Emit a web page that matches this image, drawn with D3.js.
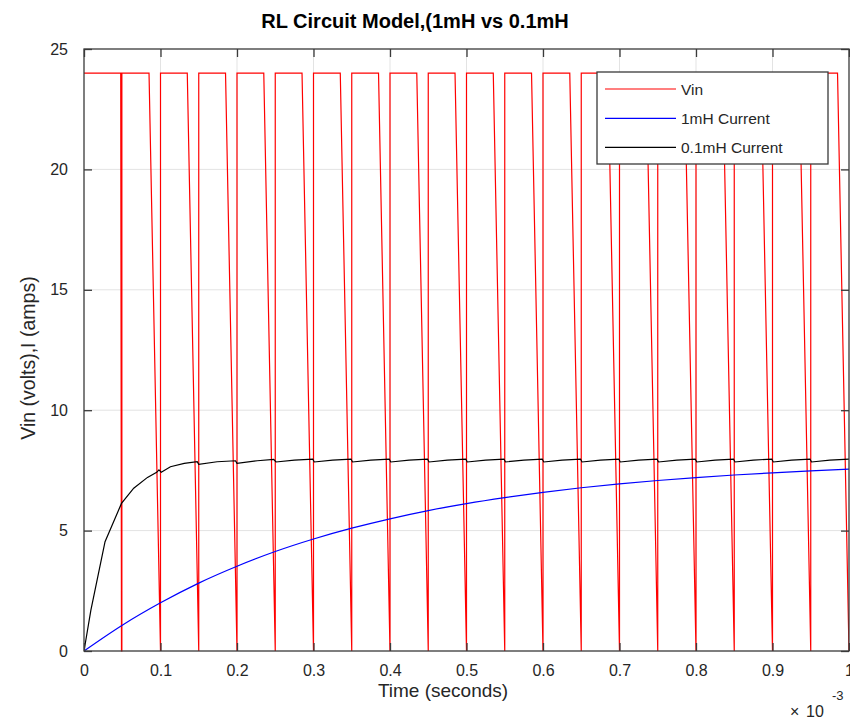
<!DOCTYPE html>
<html>
<head>
<meta charset="utf-8">
<script src="https://cdn.jsdelivr.net/npm/d3@7"></script>
<style>
  html, body { margin: 0; padding: 0; background: #fff; }
  svg { display: block; font-family: "Liberation Sans", Arial, Helvetica, sans-serif; }
</style>
</head>
<body>
<svg id="chart" width="850" height="726"></svg>
<script>
// ---------------- DATA (time in units of 1e-3 s) ----------------
const xTickValues = [0, 0.1, 0.2, 0.3, 0.4, 0.5, 0.6, 0.7, 0.8, 0.9, 1];
const xTickLabels = ["0", "0.1", "0.2", "0.3", "0.4", "0.5", "0.6", "0.7", "0.8", "0.9", "1"];
const yTickValues = [0, 5, 10, 15, 20, 25];
const yTickLabels = ["0", "5", "10", "15", "20", "25"];

// Vin square wave: edges of each pulse
const vinHigh = 24;
const vinRiseTimes  = [0, 0.0495, 0.1, 0.15, 0.2, 0.25, 0.3, 0.35, 0.4, 0.45, 0.5, 0.55, 0.6, 0.65, 0.7, 0.75, 0.8, 0.85, 0.9, 0.95];
const vinFallStart  = [0.048, 0.085, 0.135, 0.185, 0.235, 0.285, 0.335, 0.385, 0.435, 0.485, 0.535, 0.585, 0.635, 0.685, 0.735, 0.785, 0.835, 0.885, 0.935, 0.985];
const vinFallEnd    = [0.049, 0.1, 0.15, 0.2, 0.25, 0.3, 0.35, 0.4, 0.45, 0.5, 0.55, 0.6, 0.65, 0.7, 0.75, 0.8, 0.85, 0.9, 0.95, 1.0];

// 1mH current
const slowTime = [0, 0.05, 0.1, 0.15, 0.2, 0.25, 0.3, 0.35, 0.4, 0.45, 0.5, 0.55, 0.6, 0.65, 0.7, 0.75, 0.8, 0.85, 0.9, 0.95, 1.0];
const slowCurrent = [0, 1.07, 2.0, 2.82, 3.52, 4.13, 4.65, 5.10, 5.49, 5.83, 6.12, 6.37, 6.59, 6.78, 6.94, 7.08, 7.20, 7.31, 7.40, 7.48, 7.55];

// 0.1mH current
const fastTime = [0, 0.009, 0.0275, 0.049, 0.065, 0.083, 0.095, 0.098, 0.101, 0.113, 0.131, 0.148, 0.150, 0.174, 0.198, 0.200, 0.2265, 0.248, 0.251,
  0.275, 0.299, 0.301, 0.325, 0.349, 0.351, 0.375, 0.399, 0.401, 0.425, 0.449, 0.451, 0.475, 0.499, 0.501, 0.525, 0.549, 0.551,
  0.575, 0.599, 0.601, 0.625, 0.649, 0.651, 0.675, 0.699, 0.701, 0.725, 0.749, 0.751, 0.775, 0.799, 0.801, 0.825, 0.849, 0.851,
  0.875, 0.899, 0.901, 0.925, 0.949, 0.951, 0.975, 1.0];
const fastCurrent = [0, 1.70, 4.54, 6.13, 6.76, 7.21, 7.42, 7.52, 7.42, 7.65, 7.79, 7.86, 7.75, 7.86, 7.90, 7.79, 7.90, 7.96, 7.85,
  7.93, 7.97, 7.85, 7.93, 7.97, 7.85, 7.93, 7.97, 7.85, 7.93, 7.97, 7.85, 7.93, 7.97, 7.85, 7.93, 7.97, 7.85,
  7.93, 7.97, 7.85, 7.93, 7.97, 7.85, 7.93, 7.97, 7.85, 7.93, 7.97, 7.85, 7.93, 7.97, 7.85, 7.93, 7.97, 7.85,
  7.93, 7.97, 7.85, 7.93, 7.97, 7.85, 7.93, 7.97];

const seriesNames = ["Vin", "1mH Current", "0.1mH Current"];
const seriesColors = ["#ff0000", "#0000ff", "#000000"];

// ---------------- LAYOUT ----------------
const plot = { left: 84, right: 849, top: 49, bottom: 651 };
const svg = d3.select("#chart");
const x = d3.scaleLinear().domain([0, 1]).range([plot.left, plot.right]);
const y = d3.scaleLinear().domain([0, 25]).range([plot.bottom, plot.top]);

const axisColor = "#3a3a3a";
const textColor = "#262626";

// grid
const grid = svg.append("g");
grid.selectAll("line.gx").data(xTickValues.slice(1, -1)).enter().append("line")
  .attr("x1", d => x(d)).attr("x2", d => x(d)).attr("y1", plot.top).attr("y2", plot.bottom)
  .attr("stroke", "#e3e3e3").attr("stroke-width", 1);
grid.selectAll("line.gy").data(yTickValues.slice(1, -1)).enter().append("line")
  .attr("y1", d => y(d)).attr("y2", d => y(d)).attr("x1", plot.left).attr("x2", plot.right)
  .attr("stroke", "#e3e3e3").attr("stroke-width", 1);

// clip
svg.append("clipPath").attr("id", "clip").append("rect")
  .attr("x", plot.left).attr("y", plot.top - 1)
  .attr("width", plot.right - plot.left).attr("height", plot.bottom - plot.top + 2);

// series points
const vinPts = [[0, vinHigh]];
for (let i = 0; i < vinFallStart.length; i++) {
  vinPts.push([vinFallStart[i], vinHigh]);
  vinPts.push([vinFallEnd[i], 0]);
  if (i + 1 < vinRiseTimes.length) {
    vinPts.push([vinRiseTimes[i + 1], 0]);
    vinPts.push([vinRiseTimes[i + 1], vinHigh]);
  }
}
const slowPts = slowTime.map((t, i) => [t, slowCurrent[i]]);
const fastPts = fastTime.map((t, i) => [t, fastCurrent[i]]);

const line = d3.line().x(d => x(d[0])).y(d => y(d[1]));
const curveLine = d3.line().x(d => x(d[0])).y(d => y(d[1])).curve(d3.curveMonotoneX);

const lines = svg.append("g").attr("clip-path", "url(#clip)");
lines.append("path").datum(vinPts).attr("d", line)
  .attr("fill", "none").attr("stroke", seriesColors[0]).attr("stroke-width", 1.2);
lines.append("path").datum(slowPts).attr("d", curveLine)
  .attr("fill", "none").attr("stroke", seriesColors[1]).attr("stroke-width", 1.2);
lines.append("path").datum(fastPts).attr("d", line)
  .attr("fill", "none").attr("stroke", seriesColors[2]).attr("stroke-width", 1.2);

// axes box
svg.append("rect").attr("x", plot.left).attr("y", plot.top)
  .attr("width", plot.right - plot.left).attr("height", plot.bottom - plot.top)
  .attr("fill", "none").attr("stroke", axisColor).attr("stroke-width", 1.3);

// ticks via d3 axes (inward)
const tickLen = 8;
const xAxisB = d3.axisBottom(x).tickValues(xTickValues).tickFormat((d, i) => xTickLabels[i])
  .tickSizeInner(-tickLen).tickSizeOuter(0).tickPadding(tickLen + 6);
const gxb = svg.append("g").attr("transform", `translate(0,${plot.bottom})`).call(xAxisB);
const xAxisT = d3.axisTop(x).tickValues(xTickValues).tickFormat("").tickSizeInner(-tickLen).tickSizeOuter(0);
const gxt = svg.append("g").attr("transform", `translate(0,${plot.top})`).call(xAxisT);
const yAxisL = d3.axisLeft(y).tickValues(yTickValues).tickFormat((d, i) => yTickLabels[i])
  .tickSizeInner(-tickLen).tickSizeOuter(0).tickPadding(tickLen + 8);
const gyl = svg.append("g").attr("transform", `translate(${plot.left},0)`).call(yAxisL);
const yAxisR = d3.axisRight(y).tickValues(yTickValues).tickFormat("").tickSizeInner(-tickLen).tickSizeOuter(0);
const gyr = svg.append("g").attr("transform", `translate(${plot.right},0)`).call(yAxisR);

[gxb, gxt, gyl, gyr].forEach(g => {
  g.select(".domain").remove();
  g.selectAll(".tick line").attr("stroke", axisColor).attr("stroke-width", 1.3);
  g.selectAll(".tick text").attr("fill", textColor).style("font-size", "16px")
    .style("font-family", "'Liberation Sans', Arial, sans-serif");
});

// exponent label
const expG = svg.append("g").attr("fill", textColor).style("font-size", "16px");
expG.append("text").attr("x", 790).attr("y", 717).text("\u00d7");
expG.append("text").attr("x", 806).attr("y", 717).text("10");
expG.append("text").attr("x", 832).attr("y", 700).style("font-size", "13px").text("-3");

// title & axis labels
svg.append("text").attr("x", 415).attr("y", 28).attr("text-anchor", "middle")
  .style("font-size", "20px").style("font-weight", "bold").attr("fill", "#000")
  .text("RL Circuit Model,(1mH vs 0.1mH");
svg.append("text").attr("x", 443).attr("y", 697).attr("text-anchor", "middle")
  .style("font-size", "19px").attr("fill", textColor).text("Time (seconds)");
svg.append("text").attr("transform", "translate(35,358) rotate(-90)").attr("text-anchor", "middle")
  .style("font-size", "19.5px").attr("fill", textColor).text("Vin (volts),I (amps)");

// legend
const leg = { x: 597, y: 72, w: 231, h: 92 };
const lg = svg.append("g");
lg.append("rect").attr("x", leg.x).attr("y", leg.y).attr("width", leg.w).attr("height", leg.h)
  .attr("fill", "#fff").attr("stroke", axisColor).attr("stroke-width", 1.3);
const rowY = [89, 118.3, 147.3];
seriesNames.forEach((name, i) => {
  lg.append("line").attr("x1", 605).attr("x2", 676).attr("y1", rowY[i]).attr("y2", rowY[i])
    .attr("stroke", seriesColors[i]).attr("stroke-width", 1.2);
  lg.append("text").attr("x", 681).attr("y", rowY[i] + 5.5).style("font-size", "15.5px")
    .attr("fill", textColor).text(name);
});
</script>
</body>
</html>
